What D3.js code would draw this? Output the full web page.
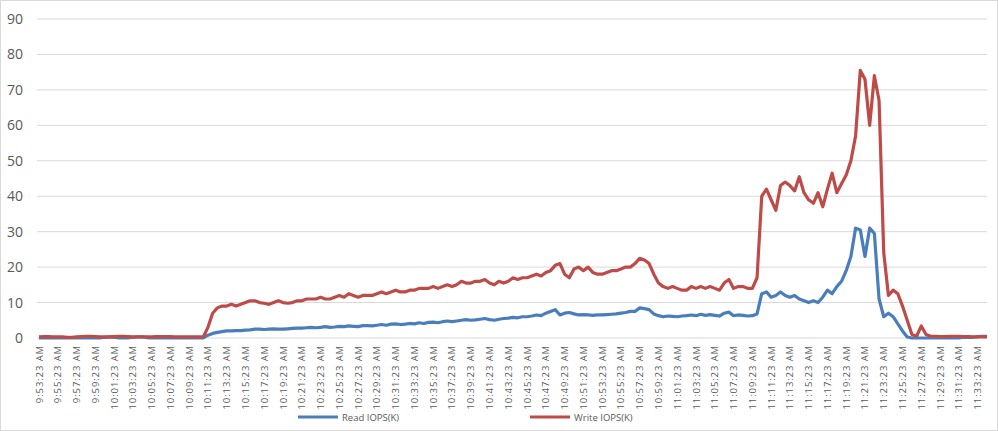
<!DOCTYPE html>
<html><head><meta charset="utf-8">
<script src="https://cdn.jsdelivr.net/npm/d3@7"></script>
<style>body{margin:0;background:#fff;font-family:"Open Sans",Calibri,sans-serif;}</style>
</head><body><svg id="c" width="998" height="431"></svg>
<script>
// 30-second samples starting 9:53:23 AM
const startTime = new Date(2020, 0, 1, 9, 53, 23);
const stepSec = 30;

const writeIops = [
  0.3,0.4,0.4,0.3,0.3,0.3,0.2,0.2,0.3,0.4,0.5,0.5,0.4,0.3,0.3,0.3,0.4,0.5,0.5,0.4,
  0.3,0.3,0.3,0.3,0.3,0.4,0.4,0.4,0.4,0.3,0.3,0.3,0.3,0.3,0.3,0.3,3,7,8.5,9,
  9,9.5,9,9.5,10,10.5,10.5,10,9.8,9.5,10,10.5,10,9.8,10,10.5,10.5,11,11,11,
  11.5,11,11,11.5,12,11.5,12.5,12,11.5,12,12,12,12.5,13,12.5,13,13.5,13,13,13.5,
  13.5,14,14,14,14.5,14,14.5,15,14.5,15,16,15.5,15.5,16,16,16.5,15.5,15,16,15.5,
  16,17,16.5,17,17,17.5,18,17.5,18.5,19,20.5,21,18,17,19.5,20,19,20,18.5,18,
  18,18.5,19,19,19.5,20,20,21,22.5,22,21,18,15.5,14.5,14,14.5,14,13.5,13.5,14.5,
  14,14.5,14,14.5,14,13.5,15.5,16.5,14,14.5,14.5,14,14,17,40,42,39,36,43,44,
  43,41.5,45.5,41,39,38,41,37,42,46.5,41,43.5,46,50,57,75.5,73,60,74,67,
  24,12,13.5,12.5,9,5,1,0.5,3.4,1,0.5,0.5,0.4,0.4,0.5,0.5,0.5,0.4,0.4,0.3,
  0.3,0.3,0.3
];
const readIops = [
  0,0,0,0,0,0,0,0,0,0,0,0,0,0,0.2,0.3,0.2,0,0,0,
  0.2,0.3,0.3,0.1,0,0,0,0,0,0,0,0,0,0,0,0,0.8,1.3,1.6,1.8,
  2,2,2.1,2.1,2.2,2.3,2.5,2.5,2.4,2.5,2.6,2.5,2.5,2.6,2.7,2.8,2.8,2.9,3,2.9,
  3,3.2,3,3.1,3.3,3.2,3.4,3.3,3.2,3.5,3.5,3.4,3.6,3.8,3.6,3.9,4,3.8,3.9,4.1,
  4,4.3,4.1,4.4,4.5,4.3,4.6,4.8,4.6,4.8,5,5.2,5,5.1,5.3,5.5,5.2,5,5.3,5.5,
  5.6,5.8,5.7,6,6,6.2,6.5,6.3,7,7.5,8,6.5,7,7.2,6.8,6.5,6.6,6.5,6.4,6.5,
  6.5,6.6,6.7,6.8,7,7.2,7.5,7.5,8.5,8.3,8,6.8,6.3,6,6.2,6.1,6,6.2,6.3,6.5,
  6.3,6.7,6.4,6.6,6.4,6.2,7,7.3,6.3,6.5,6.4,6.2,6.3,6.8,12.5,13,11.5,12,13,12,
  11.5,12,11,10.5,10,10.5,10,11.5,13.5,12.5,14.5,16,19,23,31,30.5,23,31,29.5,11,
  6,7,6,4,2,0.3,0,0,0,0,0,0,0,0,0,0,0,0.2,0.2,0.2,
  0.4,0.5,0.5
];
const yTicks = [0,10,20,30,40,50,60,70,80,90];
const labelEvery = 4; // one label per 2 minutes

const svg = d3.select("#c");
const margin = {left: 37, right: 11, top: 19, bottom: 93};
const W = 998, H = 431;

svg.append("rect").attr("x", 0.5).attr("y", 0.5).attr("width", W - 1).attr("height", H - 1)
  .attr("fill", "#fff").attr("stroke", "#d9d9d9");

const times = writeIops.map((_, i) => new Date(startTime.getTime() + i * stepSec * 1000));
const x = d3.scaleLinear().domain([0, writeIops.length - 1]).range([margin.left + 2, W - margin.right]);
const y = d3.scaleLinear().domain([0, 90]).range([H - margin.bottom, margin.top]);

svg.append("g").selectAll("line").data(yTicks).join("line")
  .attr("x1", margin.left).attr("x2", W - margin.right)
  .attr("y1", d => y(d)).attr("y2", d => y(d))
  .attr("stroke", "#d9d9d9").attr("stroke-width", 1);

svg.append("g").selectAll("text").data(yTicks).join("text")
  .attr("x", 23).attr("y", d => y(d) + 5).attr("text-anchor", "end")
  .attr("font-size", 14).attr("fill", "#595959").text(d => d);

const fmt = d3.timeFormat("%-I:%M:%S %p");
const labelIdx = d3.range(0, writeIops.length, labelEvery);
svg.append("g").selectAll("text").data(labelIdx).join("text")
  .attr("transform", i => `translate(${x(i) + 3.5},${H - margin.bottom + 7}) rotate(-90)`)
  .attr("text-anchor", "end").attr("font-size", 9.5).attr("letter-spacing", 0.9)
  .attr("fill", "#595959")
  .text(i => fmt(times[i]));

const line = d3.line().x((d, i) => x(i)).y(d => y(d));
svg.append("path").datum(readIops).attr("d", line).attr("fill", "none")
  .attr("stroke", "#4a7ebb").attr("stroke-width", 3.2).attr("stroke-linejoin", "round");
svg.append("path").datum(writeIops).attr("d", line).attr("fill", "none")
  .attr("stroke", "#be4b48").attr("stroke-width", 3.2).attr("stroke-linejoin", "round");

const legend = [{name: "Read IOPS(K)", color: "#4a7ebb", x: 298}, {name: "Write IOPS(K)", color: "#be4b48", x: 530}];
const lg = svg.append("g").selectAll("g").data(legend).join("g")
  .attr("transform", d => `translate(${d.x},417)`);
lg.append("line").attr("x1", 0).attr("x2", 40).attr("stroke", d => d.color).attr("stroke-width", 3);
lg.append("text").attr("x", 44).attr("y", 3.5).attr("font-size", 9.5).attr("fill", "#595959").text(d => d.name);
</script></body></html>
